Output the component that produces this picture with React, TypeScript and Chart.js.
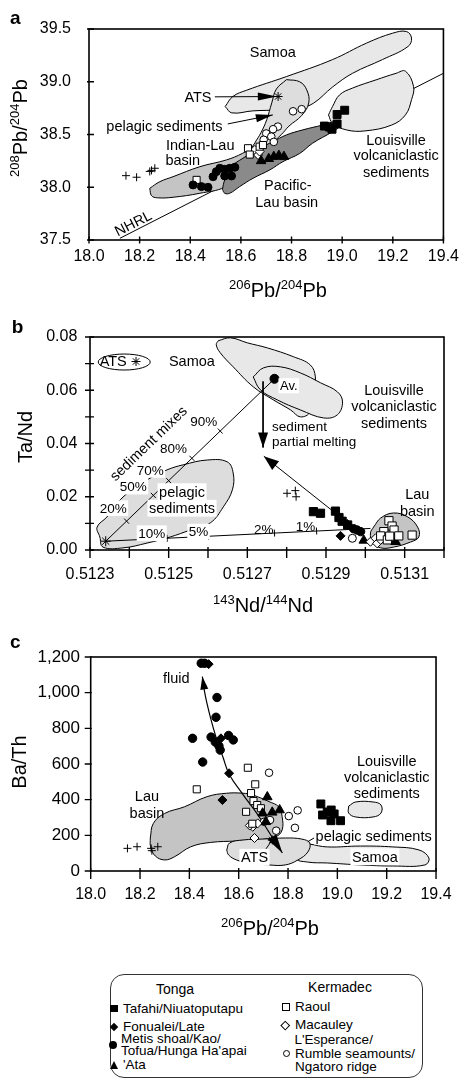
import React, { useEffect, useRef } from 'react';
import { Chart, registerables } from 'chart.js';

Chart.register(...registerables);

const FONT = '"Liberation Sans", Arial, Helvetica, sans-serif';

type P = [number, number];
type Lbl = { t: string; x: number; y: number; align?: 'left' | 'right' | 'center'; bg?: boolean; rot?: number; size?: number };
type Head = { from: P; to: P; len: number; w: number };
type Part = [string, boolean];

/* ================= Panel a : 208Pb/204Pb vs 206Pb/204Pb ================= */
const aXTicks = [18.0, 18.2, 18.4, 18.6, 18.8, 19.0, 19.2, 19.4];
const aXLabels = ['18.0', '18.2', '18.4', '18.6', '18.8', '19.0', '19.2', '19.4'];
const aYTicks = [37.5, 38.0, 38.5, 39.0, 39.5];
const aYLabels = ['37.5', '38.0', '38.5', '39.0', '39.5'];

const aTafahi: P[] = [[18.93, 38.58], [18.95, 38.57], [18.96, 38.55], [18.98, 38.6], [18.98, 38.69], [19.01, 38.73]];
const aMetis: P[] = [[18.411, 38.022], [18.444, 38.006], [18.47, 38.0], [18.49, 38.1], [18.503, 38.148], [18.517, 38.18], [18.536, 38.17], [18.556, 38.18], [18.576, 38.19], [18.563, 38.107], [18.536, 38.107]];
const aAta: P[] = [[18.68, 38.25], [18.71, 38.27], [18.73, 38.29], [18.75, 38.3], [18.77, 38.29]];
const aRaoul: P[] = [[18.425, 38.07], [18.628, 38.37], [18.635, 38.31], [18.674, 38.385], [18.687, 38.4]];
const aMacauley: P[] = [[18.655, 38.354], [18.668, 38.306], [18.674, 38.338]];
const aEsperance: P[] = [[18.806, 38.72], [18.84, 38.74], [18.746, 38.575], [18.727, 38.55], [18.7, 38.51], [18.72, 38.48], [18.69, 38.45], [18.73, 38.43]];
const aPlus: P[] = [[18.146, 38.11], [18.188, 38.095], [18.24, 38.15], [18.26, 38.18], [18.247, 38.16]];
const aATS: P[] = [[18.747, 38.86]];

const aSamoa: P[] = [[18.538, 38.765], [18.568, 38.86], [18.623, 38.92], [18.781, 39.05], [18.962, 39.21], [19.096, 39.366], [19.199, 39.46], [19.254, 39.476], [19.274, 39.414], [19.26, 39.334], [19.159, 39.21], [19.041, 39.08], [18.962, 38.95], [18.887, 38.797], [18.832, 38.75], [18.753, 38.733], [18.647, 38.724], [18.564, 38.705]];
const aLouisville: P[] = [[18.946, 38.686], [18.962, 38.765], [18.99, 38.876], [19.041, 38.94], [19.134, 39.018], [19.213, 39.08], [19.25, 39.1], [19.282, 38.955], [19.274, 38.83], [19.25, 38.686], [19.196, 38.59], [19.09, 38.534], [19.016, 38.544], [18.962, 38.607]];
const aPelagic: P[] = [[18.78, 39.02], [18.832, 39.0], [18.86, 38.923], [18.868, 38.8], [18.84, 38.68], [18.79, 38.58], [18.76, 38.5], [18.72, 38.42], [18.67, 38.37], [18.64, 38.355], [18.655, 38.42], [18.68, 38.52], [18.702, 38.64], [18.722, 38.8], [18.74, 38.93]];
const aIndianLau: P[] = [[18.24, 37.99], [18.28, 38.053], [18.332, 38.1], [18.438, 38.195], [18.543, 38.259], [18.607, 38.322], [18.648, 38.385], [18.686, 38.477], [18.72, 38.43], [18.674, 38.26], [18.595, 38.117], [18.536, 38.0], [18.438, 37.943], [18.332, 37.905], [18.27, 37.9], [18.247, 37.92]];
const aPacificLau: P[] = [[18.527, 37.98], [18.536, 38.069], [18.563, 38.195], [18.608, 38.275], [18.674, 38.37], [18.727, 38.433], [18.78, 38.496], [18.845, 38.544], [18.924, 38.59], [18.977, 38.622], [18.99, 38.58], [18.962, 38.527], [18.883, 38.417], [18.832, 38.32], [18.766, 38.243], [18.714, 38.164], [18.648, 38.085], [18.595, 38.006], [18.556, 37.943], [18.536, 37.943]];
const aNHRL: P[] = [[18.122, 37.516], [19.4, 39.08]];
const aArrowATS: P[] = [[18.497, 38.857], [18.742, 38.86]];
const aArrowPelagic: P[] = [[18.548, 38.6], [18.726, 38.686]];

const aTexts: Lbl[] = [
  { t: 'Samoa', x: 18.726, y: 39.284 },
  { t: 'ATS', x: 18.484, y: 38.857, align: 'right' },
  { t: 'pelagic sediments', x: 18.527, y: 38.582, align: 'right' },
  { t: 'Indian-Lau', x: 18.304, y: 38.4, align: 'left' },
  { t: 'basin', x: 18.302, y: 38.26, align: 'left' },
  { t: 'Pacific-', x: 18.785, y: 38.02 },
  { t: 'Lau basin', x: 18.781, y: 37.863 },
  { t: 'Louisville', x: 19.213, y: 38.449 },
  { t: 'volcaniclastic', x: 19.213, y: 38.306 },
  { t: 'sediments', x: 19.213, y: 38.142 },
  { t: 'NHRL', x: 18.174, y: 37.66, rot: -27 },
];

/* ================= Panel b : Ta/Nd vs 143Nd/144Nd ================= */
const bXTicks = [0.5123, 0.5124, 0.5125, 0.5126, 0.5127, 0.5128, 0.5129, 0.513, 0.5131, 0.5132];
const bXLabels = ['0.5123', '', '0.5125', '', '0.5127', '', '0.5129', '', '0.5131', ''];
const bYTicks = [0, 0.01, 0.02, 0.03, 0.04, 0.05, 0.06, 0.07, 0.08];
const bYLabels = ['0.00', '', '0.02', '', '0.04', '', '0.06', '', '0.08'];

const bATS: P[] = [[0.51234, 0.0033]];
const bATSKey: P[] = [[0.512417, 0.0708]];
const bAv: P[] = [[0.512769, 0.0643]];
const bPlus: P[] = [[0.512801, 0.0213], [0.512822, 0.0223], [0.512824, 0.02]];
const bTafahi: P[] = [[0.512868, 0.0144], [0.512886, 0.0138], [0.512924, 0.0146], [0.512933, 0.0122], [0.512941, 0.0108], [0.512955, 0.0094]];
const bFonualei: P[] = [[0.512937, 0.0053], [0.512954, 0.0098]];
const bMetis: P[] = [[0.51297, 0.008], [0.512979, 0.0075], [0.512988, 0.0069]];
const bEsperance: P[] = [[0.512967, 0.0044]];
const bAta: P[] = [[0.512996, 0.0036], [0.513077, 0.0031]];
const bMacauley: P[] = [[0.513013, 0.0031], [0.513026, 0.0044], [0.51303, 0.0025], [0.513039, 0.0038]];
const bRaoul: P[] = [[0.51306, 0.011], [0.513068, 0.009], [0.513073, 0.0075], [0.513047, 0.0069], [0.513039, 0.0053], [0.513056, 0.0038], [0.513085, 0.0053], [0.513119, 0.0056], [0.513062, 0.0052]];

const bSamoa: P[] = [[0.512626, 0.0786], [0.512657, 0.0797], [0.5127, 0.0778], [0.512751, 0.0759], [0.512817, 0.0726], [0.51286, 0.0695], [0.512873, 0.065], [0.512868, 0.0594], [0.51286, 0.0519], [0.512835, 0.05], [0.51281, 0.0526], [0.512766, 0.0564], [0.512715, 0.0613], [0.512664, 0.0688], [0.512631, 0.0741], [0.512621, 0.0771]];
const bLouisville: P[] = [[0.512715, 0.065], [0.512741, 0.0684], [0.512784, 0.0688], [0.512835, 0.0665], [0.512886, 0.0628], [0.512929, 0.0594], [0.512942, 0.0556], [0.512929, 0.0508], [0.512894, 0.0496], [0.512835, 0.0526], [0.512776, 0.0564], [0.512733, 0.0602]];
const bPelagic: P[] = [[0.512325, 0.0049], [0.512318, 0.0086], [0.512343, 0.0124], [0.512384, 0.0199], [0.512445, 0.0263], [0.512496, 0.0301], [0.512537, 0.032], [0.512598, 0.0338], [0.512649, 0.0331], [0.512664, 0.0289], [0.512662, 0.0226], [0.512639, 0.0162], [0.512606, 0.0102], [0.512555, 0.0075], [0.512504, 0.0049], [0.512445, 0.0026], [0.512384, 0.0008], [0.512333, 0.0011]];
const bLau: P[] = [[0.513021, 0.0086], [0.513039, 0.012], [0.513072, 0.0139], [0.513108, 0.0124], [0.513133, 0.0086], [0.513136, 0.0049], [0.513115, 0.003], [0.513072, 0.0011], [0.513039, 0.0008], [0.513018, 0.003], [0.513013, 0.0064]];

const bMixUpper: P[] = [[0.51234, 0.0033], [0.512769, 0.0643]];
const bMixLower: P[] = [[0.51234, 0.0033], [0.513013, 0.0081]];
const bUpperTickX = [0.512393, 0.512461, 0.5125, 0.512559, 0.512631];
const bLowerTickX = [0.512496, 0.512601, 0.512769, 0.512876];
const bArrowMelt: P[] = [[0.51274, 0.0633], [0.51274, 0.0385]];
const bArrowLau: P[] = [[0.512927, 0.0135], [0.512742, 0.0352]];

const bTexts: Lbl[] = [
  { t: 'ATS', x: 0.512359, y: 0.0711 },
  { t: 'Samoa', x: 0.512559, y: 0.0711 },
  { t: 'Av.', x: 0.512783, y: 0.0617, align: 'left', bg: true, size: 13 },
  { t: 'Louisville', x: 0.513073, y: 0.0602 },
  { t: 'volcaniclastic', x: 0.513073, y: 0.0539 },
  { t: 'sediments', x: 0.513073, y: 0.0476 },
  { t: 'sediment', x: 0.512763, y: 0.0464, align: 'left', size: 13.5 },
  { t: 'partial melting', x: 0.512763, y: 0.0407, align: 'left', size: 13.5 },
  { t: 'sediment mixes', x: 0.512448, y: 0.0401, rot: -44 },
  { t: '90%', x: 0.512589, y: 0.0482, size: 13.5 },
  { t: '80%', x: 0.512512, y: 0.0382, size: 13.5 },
  { t: '70%', x: 0.512453, y: 0.0301, size: 13.5, bg: true },
  { t: '50%', x: 0.51241, y: 0.0238, size: 13.5, bg: true },
  { t: '20%', x: 0.512359, y: 0.0157, size: 13.5, bg: true },
  { t: 'pelagic', x: 0.512534, y: 0.0219, bg: true },
  { t: 'sediments', x: 0.512534, y: 0.0157, bg: true },
  { t: '10%', x: 0.512457, y: 0.0063, size: 13.5, bg: true },
  { t: '5%', x: 0.512576, y: 0.0069, size: 13.5, bg: true },
  { t: '2%', x: 0.512742, y: 0.0079, size: 13.5 },
  { t: '1%', x: 0.512848, y: 0.0088, size: 13.5 },
  { t: 'Lau', x: 0.513132, y: 0.0209 },
  { t: 'basin', x: 0.513132, y: 0.0148 },
];

/* ================= Panel c : Ba/Th vs 206Pb/204Pb ================= */
const cXTicks = [18.0, 18.2, 18.4, 18.6, 18.8, 19.0, 19.2, 19.4];
const cXLabels = ['18.0', '18.2', '18.4', '18.6', '18.8', '19.0', '19.2', '19.4'];
const cYTicks = [0, 200, 400, 600, 800, 1000, 1200];
const cYLabels = ['0', '200', '400', '600', '800', '1,000', '1,200'];

const cMetis: P[] = [[18.448, 1165], [18.462, 1165], [18.512, 973], [18.508, 862], [18.413, 744], [18.488, 751], [18.505, 723], [18.52, 701], [18.525, 678], [18.559, 760], [18.578, 735], [18.454, 611]];
const cFonualei: P[] = [[18.478, 1160], [18.528, 744], [18.561, 548], [18.534, 398]];
const cRaoul: P[] = [[18.43, 458], [18.637, 579], [18.667, 486], [18.65, 437], [18.66, 392], [18.63, 332], [18.675, 370], [18.69, 352], [18.655, 265]];
const cAta: P[] = [[18.716, 415], [18.697, 324], [18.736, 329], [18.766, 342], [18.71, 276]];
const cMacauley: P[] = [[18.657, 248], [18.677, 267], [18.664, 185], [18.645, 255]];
const cEsperance: P[] = [[18.723, 551], [18.703, 276], [18.727, 286], [18.752, 226], [18.803, 308], [18.839, 340], [18.828, 242]];
const cTafahi: P[] = [[18.933, 376], [18.94, 314], [18.975, 342], [18.987, 320], [18.974, 282], [19.013, 282], [18.959, 331]];
const cPlus: P[] = [[18.149, 127], [18.188, 136], [18.245, 127], [18.272, 136], [18.248, 114]];
const cATS: P[] = [[18.736, 174]];

const cLau: P[] = [[18.2415, 185], [18.254, 267], [18.3, 323], [18.38, 360], [18.472, 417], [18.551, 436], [18.618, 436], [18.657, 426], [18.723, 389], [18.762, 360], [18.776, 305], [18.776, 230], [18.75, 192], [18.67, 174], [18.591, 168], [18.485, 160], [18.406, 136], [18.34, 80], [18.3, 62], [18.262, 84], [18.243, 135]];
const cPelagic: P[] = [[18.5515, 118], [18.563, 157], [18.618, 174], [18.697, 179], [18.789, 185], [18.856, 179], [18.888, 157], [18.88, 106], [18.84, 62], [18.789, 34], [18.722, 34], [18.643, 45], [18.591, 62], [18.559, 90]];
const cSamoa: P[] = [[18.828, 163], [18.888, 151], [18.959, 135], [19.094, 140], [19.225, 135], [19.331, 118], [19.371, 73], [19.355, 34], [19.225, 28], [19.094, 34], [18.959, 45], [18.88, 50], [18.828, 73]];
const cLouisville: P[] = [[19.046, 364], [19.074, 387], [19.145, 387], [19.177, 370], [19.177, 325], [19.145, 303], [19.074, 303], [19.046, 325]];
const cFluid: P[] = [[18.4525, 1090], [18.464, 987], [18.484, 869], [18.508, 751], [18.536, 639], [18.563, 538], [18.619, 426], [18.678, 314], [18.73, 202], [18.777, 101]];
const cATSLink: P[] = [[18.71, 123], [18.733, 168]];
const cPelagicLink: P[] = [[18.88, 164], [18.91, 189]];

const cTexts: Lbl[] = [
  { t: 'fluid', x: 18.347, y: 1080 },
  { t: 'Louisville', x: 19.2, y: 618 },
  { t: 'volcaniclastic', x: 19.2, y: 529 },
  { t: 'sediments', x: 19.2, y: 436 },
  { t: 'Lau', x: 18.228, y: 420 },
  { t: 'basin', x: 18.228, y: 323 },
  { t: 'pelagic sediments', x: 19.147, y: 196, bg: true },
  { t: 'ATS', x: 18.664, y: 77, bg: true },
  { t: 'Samoa', x: 19.152, y: 80, bg: true },
];

/* ================= helpers ================= */
const pts = (arr: P[]) => arr.map(([x, y]) => ({ x, y }));

function poly(data: P[], color: string, order: number) {
  return {
    type: 'line', data: pts([...data, data[0]]), fill: 'shape', backgroundColor: color,
    borderColor: '#000', borderWidth: 1, tension: 0.4, pointRadius: 0, order,
  };
}
function seg(data: P[], order: number, width = 1, tension = 0) {
  return {
    type: 'line', data: pts(data), fill: false, borderColor: '#000', borderWidth: width,
    tension, pointRadius: 0, order,
  };
}
function marks(data: P[], style: string, filled: boolean, r: number, order = 0, bw = 1) {
  return {
    type: 'scatter', data: pts(data), pointStyle: style, pointRadius: r,
    pointBackgroundColor: filled ? '#000' : '#fff', pointBorderColor: '#000',
    pointBorderWidth: bw, order, showLine: false,
  };
}

function drawParts(ctx: any, parts: Part[], x: number, y: number, rot: number) {
  ctx.save();
  ctx.translate(x, y);
  ctx.rotate(rot);
  ctx.textAlign = 'left';
  ctx.textBaseline = 'alphabetic';
  ctx.fillStyle = '#000';
  const fontOf = (sup: boolean) => `${sup ? 13 : 20}px ${FONT}`;
  let total = 0;
  const ws = parts.map(([t, sup]) => {
    ctx.font = fontOf(sup);
    const w = ctx.measureText(t).width;
    total += w;
    return w;
  });
  let cx = -total / 2;
  parts.forEach(([t, sup], i) => {
    ctx.font = fontOf(sup);
    ctx.fillText(t, cx, sup ? -8 : 0);
    cx += ws[i];
  });
  ctx.restore();
}

interface AxisSpec { min: number; max: number; ticks: number[]; labels: string[]; pad: number; tin: number; tout: number; size?: number }
interface PanelSpec {
  H: number; left: number; right: number; top: number; bottom: number;
  x: AxisSpec; y: AxisSpec;
  datasets: any[];
  texts: Lbl[];
  heads: Head[];
  crossTicks: { line: P[]; xs: number[]; len: number }[];
  ellipses: { c: P; rx: number; ry: number }[];
  letter: string; letterPos: [number, number];
  xTitle: Part[]; xTitlePos: [number, number];
  yTitle: Part[]; yTitlePos: [number, number];
}

function axis(a: AxisSpec, isX: boolean, size: number) {
  return {
    type: 'linear', position: isX ? 'bottom' : 'left', min: a.min, max: a.max,
    afterBuildTicks: (sc: any) => { sc.ticks = a.ticks.map((v) => ({ value: v })); },
    afterFit: (sc: any) => { if (isX) sc.height = size; else sc.width = size; },
    ticks: {
      autoSkip: false, maxRotation: 0, minRotation: 0, padding: a.pad, color: '#000',
      font: { family: FONT, size: a.size ?? 16 },
      callback: (_v: any, i: number) => a.labels[i],
    },
    grid: { display: false, drawTicks: false },
    border: { display: false },
  };
}

function overlay(s: PanelSpec) {
  return {
    id: 'overlay',
    afterDatasetsDraw(chart: any) {
      const ctx = chart.ctx;
      const xs = chart.scales.x, ys = chart.scales.y;
      const X = (v: number) => xs.getPixelForValue(v);
      const Y = (v: number) => ys.getPixelForValue(v);
      ctx.save();
      ctx.strokeStyle = '#000';
      ctx.fillStyle = '#000';
      ctx.lineWidth = 1;
      for (const ct of s.crossTicks) {
        const [a, b] = ct.line;
        const ax = X(a[0]), ay = Y(a[1]), bx = X(b[0]), by = Y(b[1]);
        const L = Math.hypot(bx - ax, by - ay);
        const nx = -(by - ay) / L, ny = (bx - ax) / L;
        for (const xv of ct.xs) {
          const t = (xv - a[0]) / (b[0] - a[0]);
          const px = ax + t * (bx - ax), py = ay + t * (by - ay);
          ctx.beginPath();
          ctx.moveTo(px - nx * ct.len, py - ny * ct.len);
          ctx.lineTo(px + nx * ct.len, py + ny * ct.len);
          ctx.stroke();
        }
      }
      for (const e of s.ellipses) {
        ctx.beginPath();
        ctx.ellipse(X(e.c[0]), Y(e.c[1]), e.rx, e.ry, 0, 0, Math.PI * 2);
        ctx.stroke();
      }
      for (const h of s.heads) {
        const x1 = X(h.from[0]), y1 = Y(h.from[1]), x2 = X(h.to[0]), y2 = Y(h.to[1]);
        const a = Math.atan2(y2 - y1, x2 - x1);
        const bx = x2 - h.len * Math.cos(a), by = y2 - h.len * Math.sin(a);
        ctx.beginPath();
        ctx.moveTo(x2, y2);
        ctx.lineTo(bx + (h.w / 2) * Math.sin(a), by - (h.w / 2) * Math.cos(a));
        ctx.lineTo(bx - (h.w / 2) * Math.sin(a), by + (h.w / 2) * Math.cos(a));
        ctx.closePath();
        ctx.fill();
      }
      for (const L of s.texts) {
        const size = L.size ?? 14.5;
        const align = L.align ?? 'center';
        ctx.save();
        ctx.translate(X(L.x), Y(L.y));
        if (L.rot) ctx.rotate((L.rot * Math.PI) / 180);
        ctx.font = `${size}px ${FONT}`;
        ctx.textAlign = align;
        ctx.textBaseline = 'middle';
        if (L.bg) {
          const w = ctx.measureText(L.t).width;
          const x0 = align === 'left' ? 0 : align === 'right' ? -w : -w / 2;
          ctx.fillStyle = '#fff';
          ctx.fillRect(x0 - 1.5, -size * 0.58, w + 3, size * 1.16);
        }
        ctx.fillStyle = '#000';
        ctx.fillText(L.t, 0, 1);
        ctx.restore();
      }
      ctx.restore();
    },
    afterDraw(chart: any) {
      const ctx = chart.ctx;
      const ca = chart.chartArea;
      const xs = chart.scales.x, ys = chart.scales.y;
      ctx.save();
      ctx.strokeStyle = '#000';
      ctx.lineWidth = 1.6;
      ctx.strokeRect(ca.left, ca.top, ca.right - ca.left, ca.bottom - ca.top);
      ctx.lineWidth = 1.4;
      ctx.beginPath();
      for (const v of s.x.ticks) {
        const px = xs.getPixelForValue(v);
        ctx.moveTo(px, ca.bottom - s.x.tin);
        ctx.lineTo(px, ca.bottom + s.x.tout);
      }
      for (const v of s.y.ticks) {
        const py = ys.getPixelForValue(v);
        ctx.moveTo(ca.left - s.y.tout, py);
        ctx.lineTo(ca.left + s.y.tin, py);
      }
      ctx.stroke();
      drawParts(ctx, s.xTitle, s.xTitlePos[0], s.xTitlePos[1], 0);
      drawParts(ctx, s.yTitle, s.yTitlePos[0], s.yTitlePos[1], -Math.PI / 2);
      ctx.font = `bold 19px ${FONT}`;
      ctx.textAlign = 'left';
      ctx.textBaseline = 'alphabetic';
      ctx.fillStyle = '#000';
      ctx.fillText(s.letter, s.letterPos[0], s.letterPos[1]);
      ctx.restore();
    },
  };
}

function buildConfig(s: PanelSpec): any {
  return {
    type: 'scatter',
    data: { datasets: s.datasets },
    options: {
      responsive: false,
      animation: false,
      devicePixelRatio: 1,
      events: [],
      layout: { padding: { left: 0, right: 466 - s.right, top: s.top, bottom: 0 } },
      plugins: { legend: { display: false }, tooltip: { enabled: false }, title: { display: false } },
      scales: {
        x: axis(s.x, true, s.H - s.bottom),
        y: axis(s.y, false, s.left),
      },
    },
    plugins: [overlay(s)],
  };
}

const LIGHT = '#e8e8e8';
const PELAGIC = '#dddddd';
const MID = '#c4c4c4';
const DARK = '#8a8a8a';

const panelA: PanelSpec = {
  H: 300, left: 89, right: 444, top: 29, bottom: 240,
  x: { min: 18, max: 19.4, ticks: aXTicks, labels: aXLabels, pad: 7, tin: 3.5, tout: 3.5 },
  y: { min: 37.5, max: 39.5, ticks: aYTicks, labels: aYLabels, pad: 18, tin: 5, tout: 2 },
  datasets: [
    marks(aATS, 'star', false, 4.5, 0),
    marks(aTafahi, 'rect', true, 5.6),
    marks(aMetis, 'circle', true, 4),
    marks(aAta, 'triangle', true, 5.5),
    marks(aRaoul, 'rect', false, 5),
    marks(aMacauley, 'rectRot', false, 4.5),
    marks(aEsperance, 'circle', false, 3.8),
    marks(aPlus, 'cross', false, 4),
    seg(aArrowATS, 1),
    seg(aArrowPelagic, 1),
    poly(aPacificLau, DARK, 10),
    poly(aPelagic, PELAGIC, 11),
    poly(aIndianLau, MID, 12),
    poly(aLouisville, LIGHT, 13),
    poly(aSamoa, LIGHT, 14),
    seg(aNHRL, 20),
  ],
  texts: aTexts,
  heads: [
    { from: aArrowATS[0], to: aArrowATS[1], len: 19, w: 8 },
    { from: aArrowPelagic[0], to: aArrowPelagic[1], len: 17, w: 8 },
  ],
  crossTicks: [],
  ellipses: [],
  letter: 'a', letterPos: [10, 24],
  xTitle: [['206', true], ['Pb/', false], ['204', true], ['Pb', false]], xTitlePos: [278, 297],
  yTitle: [['208', true], ['Pb/', false], ['204', true], ['Pb', false]], yTitlePos: [27, 128],
};

const panelB: PanelSpec = {
  H: 325, left: 90, right: 444, top: 37, bottom: 250,
  x: { min: 0.5123, max: 0.5132, ticks: bXTicks, labels: bXLabels, pad: 15.4, tin: 3, tout: 8 },
  y: { min: 0, max: 0.08, ticks: bYTicks, labels: bYLabels, pad: 12.7, tin: 4, tout: 5 },
  datasets: [
    marks(bATS, 'star', false, 5, 0),
    marks(bATSKey, 'star', false, 4.5, 0),
    marks(bAv, 'circle', true, 4.5),
    marks(bRaoul, 'rect', false, 5.8),
    marks(bMacauley, 'rectRot', false, 4.5),
    marks(bAta, 'triangle', true, 5.5),
    marks(bEsperance, 'circle', false, 4),
    marks(bMetis, 'circle', true, 4.2),
    marks(bFonualei, 'rectRot', true, 4.5),
    marks(bTafahi, 'rect', true, 5.8),
    marks(bPlus, 'cross', false, 4),
    seg(bMixUpper, 1),
    seg(bMixLower, 1),
    seg(bArrowMelt, 1),
    seg(bArrowLau, 1),
    poly(bLau, MID, 10),
    poly(bPelagic, PELAGIC, 11),
    poly(bLouisville, LIGHT, 12),
    poly(bSamoa, LIGHT, 13),
  ],
  texts: bTexts,
  heads: [
    { from: bArrowMelt[0], to: bArrowMelt[1], len: 15, w: 10 },
    { from: bArrowLau[0], to: bArrowLau[1], len: 15, w: 11 },
  ],
  crossTicks: [
    { line: bMixUpper, xs: bUpperTickX, len: 3.5 },
    { line: bMixLower, xs: bLowerTickX, len: 3.5 },
  ],
  ellipses: [{ c: [0.512387, 0.0706], rx: 26, ry: 8 }],
  letter: 'b', letterPos: [11.7, 33.3],
  xTitle: [['143', true], ['Nd/', false], ['144', true], ['Nd', false]], xTitlePos: [263, 312],
  yTitle: [['Ta/Nd', false]], yTitlePos: [31.5, 137],
};

const panelC: PanelSpec = {
  H: 330, left: 90.7, right: 444.3, top: 32, bottom: 246,
  x: { min: 18, max: 19.4, ticks: cXTicks, labels: cXLabels, pad: 14.4, tin: 3, tout: 8 },
  y: { min: 0, max: 1200, ticks: cYTicks, labels: cYLabels, pad: 10.7, tin: 1, tout: 6, size: 17 },
  datasets: [
    marks(cATS, 'star', false, 4.5, 0),
    marks(cTafahi, 'rect', true, 5.6),
    marks(cMetis, 'circle', true, 4.2),
    marks(cFonualei, 'rectRot', true, 4.5),
    marks(cAta, 'triangle', true, 5.5),
    marks(cRaoul, 'rect', false, 5),
    marks(cMacauley, 'rectRot', false, 4.5),
    marks(cEsperance, 'circle', false, 3.8),
    marks(cPlus, 'cross', false, 4),
    seg(cFluid, 1, 1.2, 0.4),
    seg(cATSLink, 1),
    seg(cPelagicLink, 1),
    poly(cLouisville, LIGHT, 10),
    poly(cPelagic, PELAGIC, 11),
    poly(cSamoa, LIGHT, 12),
    poly(cLau, MID, 13),
  ],
  texts: cTexts,
  heads: [
    { from: cFluid[1], to: cFluid[0], len: 13, w: 8 },
    { from: cFluid[cFluid.length - 2], to: cFluid[cFluid.length - 1], len: 19, w: 10 },
  ],
  crossTicks: [],
  ellipses: [],
  letter: 'c', letterPos: [10, 23.3],
  xTitle: [['206', true], ['Pb/', false], ['204', true], ['Pb', false]], xTitlePos: [270, 310],
  yTitle: [['Ba/Th', false]], yTitlePos: [26, 137],
};

/* ================= Legend (HTML text) ================= */
function Legend() {
  const txt = (s: string, left: number, cy: number, center = false, size = 13.5) => (
    <div
      key={s + cy}
      style={{
        position: 'absolute', left, top: cy - 8, height: 16, lineHeight: '16px',
        fontFamily: FONT, fontSize: size, whiteSpace: 'nowrap', color: '#000',
        transform: center ? 'translateX(-50%)' : undefined,
      }}
    >
      {s}
    </div>
  );
  const box = (cx: number, cy: number, w: number, h: number, style: any) => (
    <div style={{ position: 'absolute', left: cx - w / 2, top: cy - h / 2, width: w, height: h, boxSizing: 'border-box', ...style }} />
  );
  return (
    <div>
      <div style={{ position: 'absolute', left: 110, top: 974, width: 313, height: 104, border: '1.3px solid #333', borderRadius: 14, boxSizing: 'border-box' }} />
      {txt('Tonga', 175, 988.5, true, 14)}
      {txt('Kermadec', 340, 987, true, 14)}
      {box(114, 1008.5, 7.5, 7.5, { background: '#000' })}
      {txt('Tafahi/Niuatoputapu', 123, 1008.5)}
      {box(114, 1026.5, 6, 6, { background: '#000', transform: 'rotate(45deg)' })}
      {txt('Fonualei/Late', 123, 1026.5)}
      {txt('Metis shoal/Kao/', 121, 1038.5)}
      {box(113, 1045, 8, 8, { background: '#000', borderRadius: '50%' })}
      {txt("Tofua/Hunga Ha'apai", 121, 1050.5)}
      <div style={{ position: 'absolute', left: 109.5, top: 1061, width: 0, height: 0, borderLeft: '4.5px solid transparent', borderRight: '4.5px solid transparent', borderBottom: '8px solid #000' }} />
      {txt("'Ata", 123, 1065)}
      {box(286, 1006.5, 8, 8, { border: '1px solid #000', background: '#fff' })}
      {txt('Raoul', 295, 1006.5)}
      {box(285.5, 1025, 6.5, 6.5, { border: '1px solid #000', transform: 'rotate(45deg)' })}
      {txt('Macauley', 295, 1025)}
      {txt("L'Esperance/", 294.5, 1039.5)}
      {box(286.5, 1053.5, 7.5, 7.5, { border: '1px solid #000', borderRadius: '50%' })}
      {txt('Rumble seamounts/', 295, 1053.5)}
      {txt('Ngatoro ridge', 295, 1067)}
    </div>
  );
}

export default function App() {
  const ra = useRef<HTMLCanvasElement>(null);
  const rb = useRef<HTMLCanvasElement>(null);
  const rc = useRef<HTMLCanvasElement>(null);

  useEffect(() => {
    const charts = [
      new Chart(ra.current as HTMLCanvasElement, buildConfig(panelA)),
      new Chart(rb.current as HTMLCanvasElement, buildConfig(panelB)),
      new Chart(rc.current as HTMLCanvasElement, buildConfig(panelC)),
    ];
    return () => charts.forEach((c) => c.destroy());
  }, []);

  return (
    <div style={{ position: 'absolute', left: 0, top: 0, width: 466, height: 1083, background: '#fff', overflow: 'hidden' }}>
      <canvas ref={ra} width={466} height={300} style={{ position: 'absolute', left: 0, top: 0, width: 466, height: 300 }} />
      <canvas ref={rb} width={466} height={325} style={{ position: 'absolute', left: 0, top: 300, width: 466, height: 325 }} />
      <canvas ref={rc} width={466} height={330} style={{ position: 'absolute', left: 0, top: 625, width: 466, height: 330 }} />
      <Legend />
    </div>
  );
}
